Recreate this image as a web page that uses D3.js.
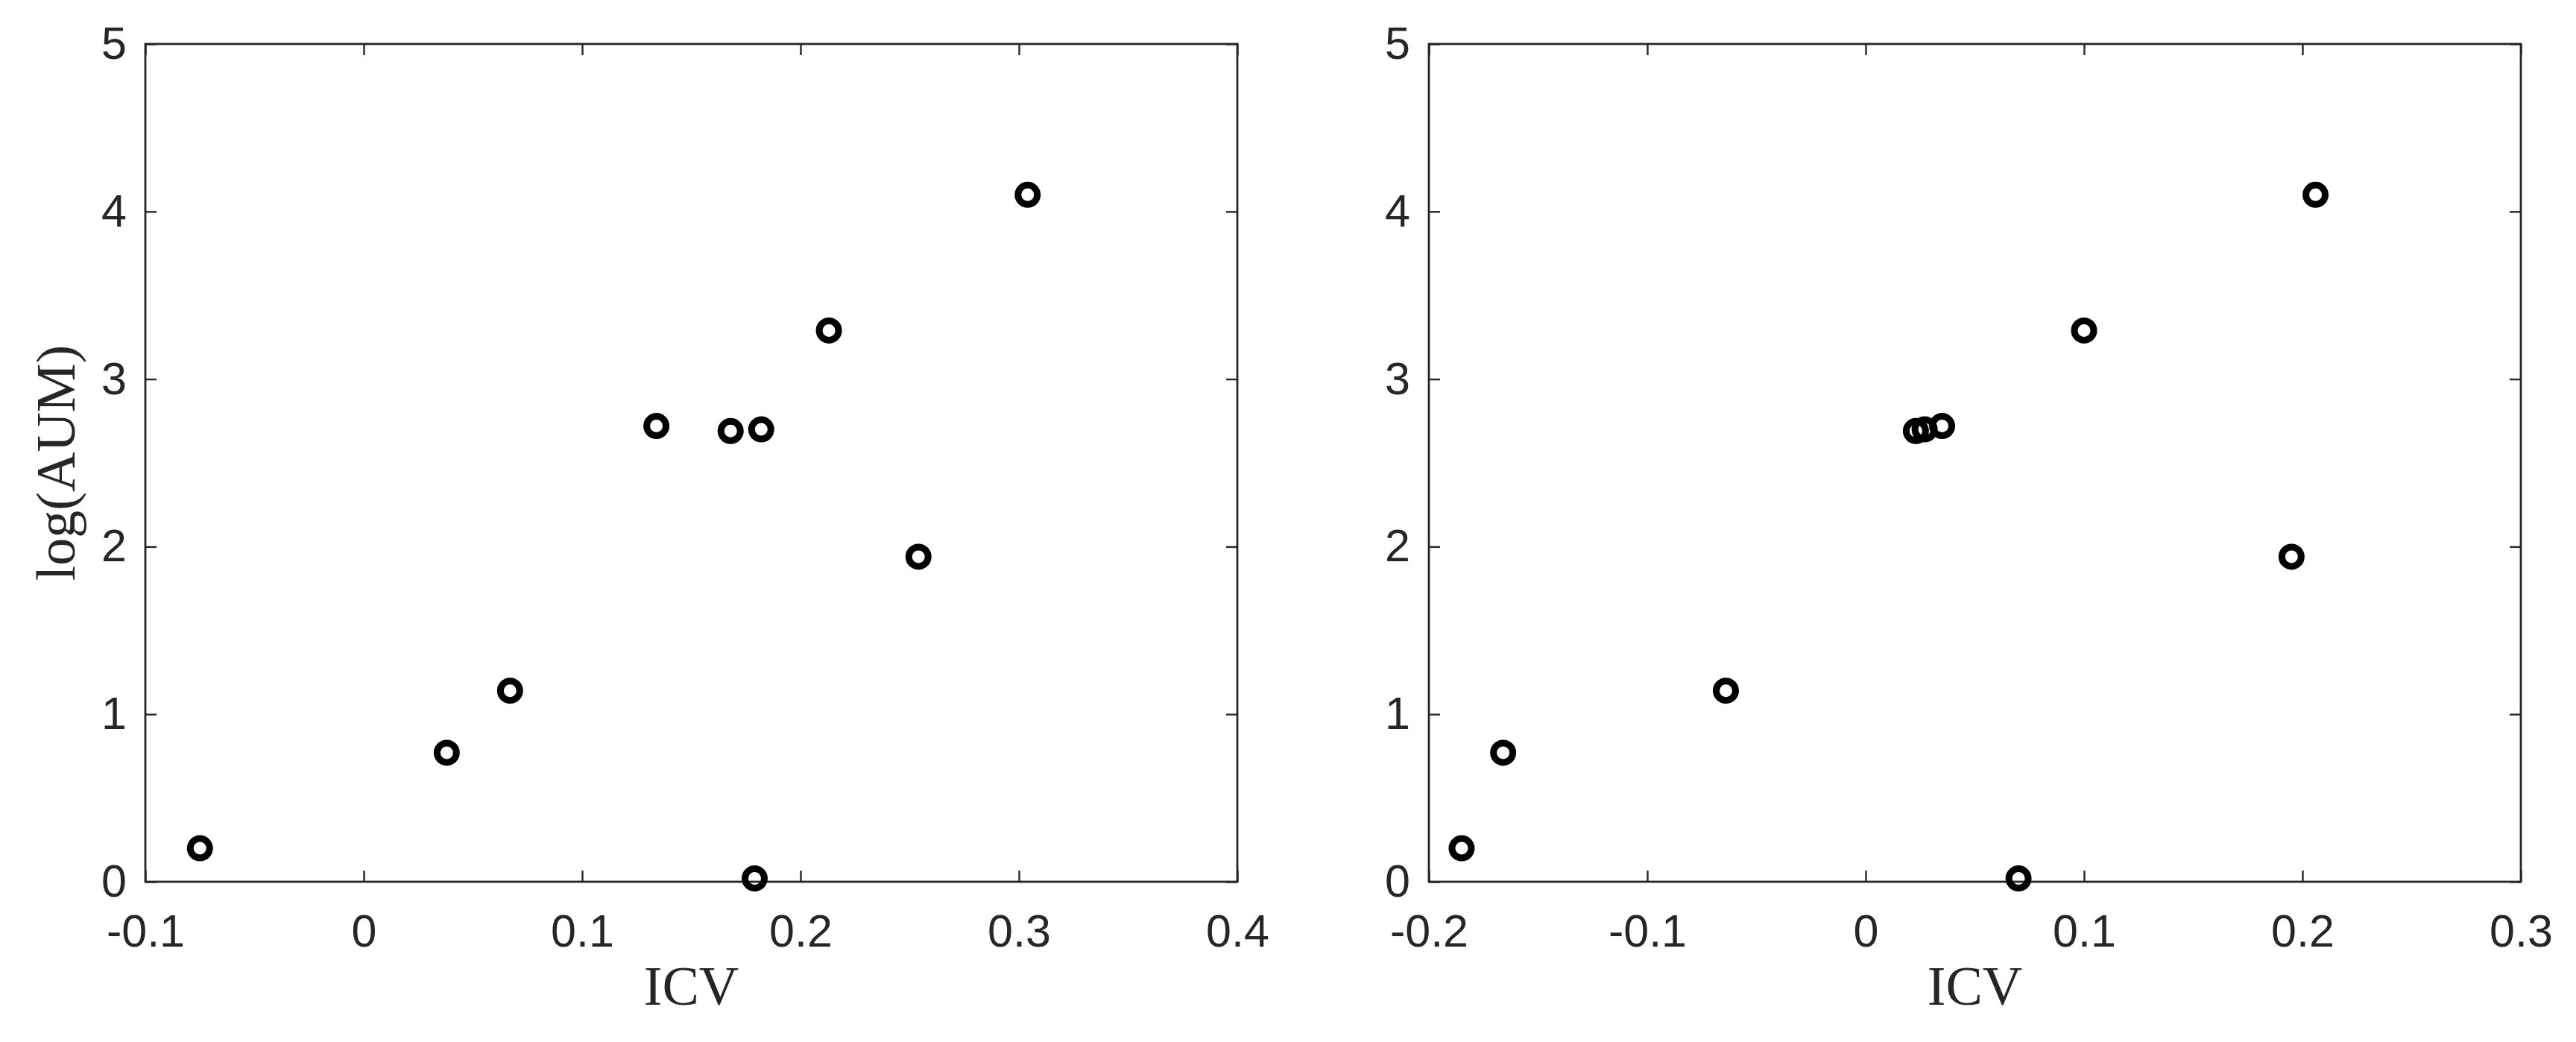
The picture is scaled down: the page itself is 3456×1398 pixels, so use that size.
<!DOCTYPE html>
<html>
<head>
<meta charset="utf-8">
<script src="https://cdn.jsdelivr.net/npm/d3@7"></script>
<style>
  body { margin: 0; background: #fff; }
  svg { display: block; }
</style>
</head>
<body>
<script>
// values (same y in both)
var logAum   = [4.10, 3.29, 2.72, 2.69, 2.70, 1.94, 1.14, 0.77, 0.20, 0.02];
var icvLeft  = [0.304, 0.213, 0.134, 0.168, 0.182, 0.254, 0.067, 0.038, -0.075, 0.179];
var icvRight = [0.206, 0.100, 0.035, 0.023, 0.027, 0.195, -0.064, -0.166, -0.185, 0.070];

var xTicksLeft  = [-0.1, 0, 0.1, 0.2, 0.3, 0.4];
var xTicksRight = [-0.2, -0.1, 0, 0.1, 0.2, 0.3];
var yTicks = [0, 1, 2, 3, 4, 5];

var W = 3456, H = 1398;
var ink = "#262626";
// note: "top" is a reserved window prop, so plotTop / plotBottom
var plotTop = 59, plotBottom = 1183, pw = 1465;

var svg = d3.select("body").append("svg")
    .attr("width", W)
    .attr("height", H);
svg.append("rect").attr("width", W).attr("height", H).attr("fill", "#fff");

var fmt = function(d) { return d === 0 ? "0" : String(+d.toFixed(1)); };

function panel(left, xs, xTicks, showYLabel) {
    var x = d3.scaleLinear().domain([xTicks[0], xTicks[xTicks.length - 1]]).range([left, left + pw]);
    var y = d3.scaleLinear().domain([0, 5]).range([plotBottom, plotTop]);

    var g = svg.append("g");

    // ticks point inward, all four sides
    var ax = [
        [d3.axisBottom(x).tickValues(xTicks).tickFormat(fmt).tickSize(-15).tickSizeOuter(0).tickPadding(44), "translate(0," + plotBottom + ")"],
        [d3.axisTop(x).tickValues(xTicks).tickFormat("").tickSize(-15).tickSizeOuter(0), "translate(0," + plotTop + ")"],
        [d3.axisLeft(y).tickValues(yTicks).tickFormat(d3.format("d")).tickSize(-15).tickSizeOuter(0).tickPadding(25), "translate(" + left + ",0)"],
        [d3.axisRight(y).tickValues(yTicks).tickFormat("").tickSize(-15).tickSizeOuter(0), "translate(" + (left + pw) + ",0)"]
    ];
    ax.forEach(function(a) {
        var ag = g.append("g").attr("transform", a[1]).call(a[0]);
        ag.select(".domain").remove();
        ag.selectAll("line").attr("stroke", ink).attr("stroke-width", 2.4);
        ag.selectAll("text")
            .attr("fill", ink)
            .style("font-family", "'Liberation Sans', Arial, Helvetica, sans-serif")
            .style("font-size", "61px");
    });

    g.append("rect")
        .attr("x", x.range()[0]).attr("y", plotTop)
        .attr("width", pw).attr("height", plotBottom - plotTop)
        .attr("fill", "none")
        .attr("stroke", ink)
        .attr("stroke-width", 2.8);

    g.selectAll("circle.pt")
        .data(xs.map(function(v, i) { return [v, logAum[i]]; }))
        .enter().append("circle")
        .attr("class", "pt")
        .attr("cx", function(d) { return x(d[0]); })
        .attr("cy", function(d) { return y(d[1]); })
        .attr("r", 13)
        .attr("fill", "none")
        .attr("stroke", "#000")
        .attr("stroke-width", 9);

    g.append("text")
        .attr("x", left + pw / 2)
        .attr("y", 1348)
        .attr("text-anchor", "middle")
        .attr("fill", ink)
        .style("font-family", "'Liberation Serif', 'Times New Roman', serif")
        .style("font-size", "74px")
        .text("ICV");

    if (showYLabel) {
        g.append("text")
            .attr("transform", "translate(100," + (plotTop + plotBottom) / 2 + ") rotate(-90)")
            .attr("text-anchor", "middle")
            .attr("fill", ink)
            .style("font-family", "'Liberation Serif', 'Times New Roman', serif")
            .style("font-size", "74px")
            .text("log(AUM)");
    }
}

panel(195, icvLeft, xTicksLeft, true);
panel(1917, icvRight, xTicksRight, false);
</script>
</body>
</html>
